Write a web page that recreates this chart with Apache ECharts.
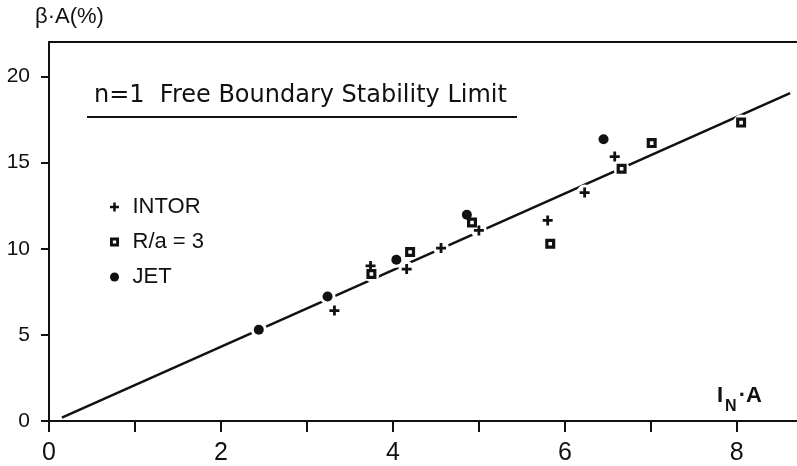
<!DOCTYPE html>
<html>
<head>
<meta charset="utf-8">
<script src="https://cdn.jsdelivr.net/npm/echarts@6/dist/echarts.min.js"></script>
<style>
  html, body { margin: 0; padding: 0; background: #fff; }
  #main { width: 797px; height: 466px; }
</style>
</head>
<body>
<div id="main"></div>
<script>
// Values
const intorX = [3.32, 3.74, 4.16, 4.56, 5.00, 5.80, 6.23, 6.58];
const intorY = [6.41, 9.00, 8.82, 10.04, 11.06, 11.64, 13.26, 15.35];
const raX = [3.75, 4.20, 4.92, 5.83, 6.66, 7.01, 8.05];
const raY = [8.53, 9.81, 11.52, 10.29, 14.64, 16.13, 17.32];
const jetX = [2.44, 3.24, 4.04, 4.86, 6.45];
const jetY = [5.30, 7.23, 9.36, 11.97, 16.36];
// stability limit line, two end points
const limitX = [0.15, 8.62];
const limitY = [0.19, 19.03];

const xTicks = [0, 1, 2, 3, 4, 5, 6, 7, 8];
const xLabels = [0, 2, 4, 6, 8];
const yTicks = [0, 5, 10, 15, 20];

const ink = '#111';
const font = 'Liberation Sans, Arial, sans-serif';
const wideFont = 'DejaVu Sans, sans-serif';

const pairs = (xs, ys) => xs.map((x, i) => [x, ys[i]]);

// symbols
const plusPath = 'path://M3.6,0H6.4V3.6H10V6.4H6.4V10H3.6V6.4H0V3.6H3.6Z';
const ringPath = 'path://M0,0H10V10H0Z M3.2,3.2V6.8H6.8V3.2Z';

const allPoints = [
  ...pairs(intorX, intorY),
  ...pairs(raX, raY),
  ...pairs(jetX, jetY)
];

const chart = echarts.init(document.getElementById('main'));

chart.setOption({
  animation: false,
  grid: { left: 49, right: 0, top: 42, bottom: 44.5 },
  title: {
    text: 'n=1  Free Boundary Stability Limit',
    left: 94,
    top: 84,
    padding: 0,
    textStyle: { fontFamily: wideFont, fontSize: 24, fontWeight: 'normal', color: ink }
  },
  legend: {
    data: ['INTOR', 'R/a = 3', 'JET'],
    orient: 'vertical',
    left: 110,
    top: 196,
    padding: 0,
    itemWidth: 26,
    itemHeight: 9,
    itemGap: 13,
    textStyle: { fontFamily: font, fontSize: 22, color: ink }
  },
  graphic: [
    {
      type: 'line',
      shape: { x1: 87, y1: 117, x2: 517, y2: 117 },
      style: { stroke: ink, lineWidth: 2 }
    }
  ],
  xAxis: [
    {
      type: 'value',
      min: 0,
      max: 8.7,
      name: 'I{sub|N}·A',
      nameLocation: 'end',
      nameGap: -80,
      nameTextStyle: {
        fontFamily: font,
        fontSize: 22,
        fontWeight: 'bold',
        color: ink,
        verticalAlign: 'bottom',
        align: 'left',
        padding: [0, 0, 6, 0],
        rich: {
          sub: {
            fontFamily: font,
            fontSize: 16,
            fontWeight: 'bold',
            color: ink,
            verticalAlign: 'top',
            padding: [22, 2, 0, 2]
          }
        }
      },
      splitLine: { show: false },
      axisLine: { lineStyle: { color: ink, width: 2 } },
      axisTick: {
        customValues: xTicks,
        length: 11,
        lineStyle: { color: ink, width: 2 }
      },
      axisLabel: {
        customValues: xLabels,
        margin: 20,
        fontFamily: font,
        fontSize: 25,
        color: ink
      }
    },
    {
      type: 'value',
      position: 'top',
      min: 0,
      max: 8.7,
      splitLine: { show: false },
      axisLine: { lineStyle: { color: ink, width: 2 } },
      axisTick: { show: false },
      axisLabel: { show: false }
    }
  ],
  yAxis: {
    type: 'value',
    min: 0,
    max: 22,
    name: 'β·A(%)',
    nameLocation: 'end',
    nameGap: 14,
    nameTextStyle: {
      fontFamily: font,
      fontSize: 22,
      color: ink,
      align: 'left',
      padding: [0, 0, 0, -14]
    },
    splitLine: { show: false },
    axisLine: { lineStyle: { color: ink, width: 2 } },
    axisTick: {
      customValues: yTicks,
      length: 8,
      lineStyle: { color: ink, width: 2 }
    },
    axisLabel: {
      customValues: yTicks,
      margin: 19,
      fontFamily: font,
      fontSize: 21,
      color: ink
    }
  },
  series: [
    {
      name: 'limit',
      type: 'line',
      z: 1,
      data: pairs(limitX, limitY),
      symbol: 'none',
      silent: true,
      lineStyle: { color: ink, width: 2.5 }
    },
    {
      // white halo breaks the line around each point, as in the original plot
      name: 'gap',
      type: 'scatter',
      z: 3,
      data: allPoints,
      symbol: 'circle',
      symbolSize: 16,
      silent: true,
      itemStyle: { color: '#fff', opacity: 1 }
    },
    {
      name: 'INTOR',
      type: 'scatter',
      z: 4,
      data: pairs(intorX, intorY),
      symbol: plusPath,
      symbolSize: 10,
      itemStyle: { color: ink, opacity: 1 }
    },
    {
      name: 'R/a = 3',
      type: 'scatter',
      z: 4,
      data: pairs(raX, raY),
      symbol: ringPath,
      symbolSize: 10,
      itemStyle: { color: ink, opacity: 1 }
    },
    {
      name: 'JET',
      type: 'scatter',
      z: 4,
      data: pairs(jetX, jetY),
      symbol: 'circle',
      symbolSize: 10,
      itemStyle: { color: ink, opacity: 1 }
    }
  ]
});
</script>
</body>
</html>
